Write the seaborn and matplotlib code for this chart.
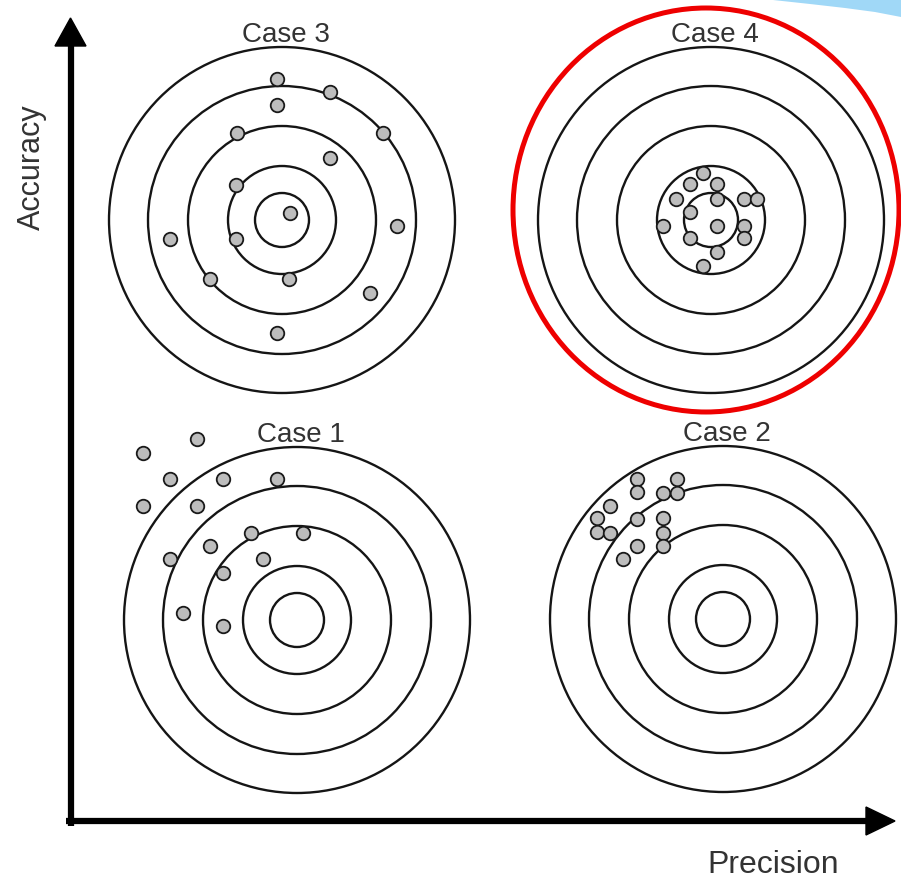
import matplotlib
matplotlib.use("Agg")
import matplotlib.pyplot as plt
from matplotlib.patches import Circle, Ellipse, Polygon
import seaborn as sns
import pandas as pd

# ---------------- data ----------------
W, H = 901, 882
case_names = ["Case 3", "Case 4", "Case 1", "Case 2"]
# target centres (pixel frame, y downward)
center_x = [282, 711, 297, 723]
center_y = [220, 220, 620, 619]
ring_radii = [27, 54, 94, 134, 173]

# shot offsets from bullseye (dx right, dy up)
case3_dx = [-5, 48, -5, -45, 101, 48, -46, 8, 115, -112, -46, -72, 7, 88, -5]
case3_dy = [141, 128, 115, 87, 87, 62, 35, 7, -6, -19, -19, -59, -59, -73, -113]
case4_dx = [-8, -21, 6, -35, 6, 33, 46, -21, -48, 6, 33, -21, 33, 6, -8]
case4_dy = [47, 36, 36, 21, 21, 21, 21, 8, -6, -6, -6, -18, -18, -32, -46]
case1_dx = [-100, -154, -127, -74, -20, -154, -100, -46, 6, -87, -127, -34, -74, -114, -74]
case1_dy = [181, 167, 141, 141, 141, 114, 114, 87, 87, 74, 61, 61, 47, 7, -6]
case2_dx = [-86, -46, -86, -60, -46, -113, -126, -86, -60, -126, -113, -60, -86, -60, -100]
case2_dy = [140, 140, 127, 126, 126, 113, 101, 100, 101, 87, 86, 86, 73, 73, 60]
shots_dx = [case3_dx, case4_dx, case1_dx, case2_dx]
shots_dy = [case3_dy, case4_dy, case1_dy, case2_dy]

x_label = "Precision"
y_label = "Accuracy"

# ---------------- figure ----------------
sns.set_theme(style="white")
plt.rcParams["font.family"] = ["Liberation Sans", "DejaVu Sans"]

fig = plt.figure(figsize=(W / 100, H / 100), dpi=100)
ax = fig.add_axes([0, 0, 1, 1])

def py(y):
    return H - y

rows = []
for i, name in enumerate(case_names):
    cx, cy = center_x[i], py(center_y[i])
    for r in ring_radii:
        ax.add_patch(Circle((cx, cy), r, fill=False, ec="#151515", lw=1.7, zorder=1))
    ax.text(cx + 4, cy + 178, name, ha="center", va="baseline",
            fontsize=20, color="#333333", zorder=3)
    for dx, dy in zip(shots_dx[i], shots_dy[i]):
        rows.append({"case": name, "x": cx + dx, "y": cy + dy})

df = pd.DataFrame(rows)
sns.scatterplot(data=df, x="x", y="y", ax=ax, s=95, color="#bdbdbd",
                edgecolor="#1a1a1a", linewidth=1.3, zorder=4, legend=False)
ax.set_xlim(0, W)
ax.set_ylim(0, H)
ax.axis("off")

# highlight ellipse around Case 4
ax.add_patch(Ellipse((706, py(210)), 386, 404, fill=False, ec="#ee0000", lw=3.6, zorder=5))

# light blue decoration top right
ax.add_patch(Polygon([(773, py(0)), (810, py(4)), (845, py(8)), (875, py(12)),
                      (901, py(17)), (901, py(0))], closed=True,
                     fc="#a0d8f7", ec="none", zorder=0))

# axes arrows
ax.plot([70.5, 70.5], [py(826), py(42)], color="black", lw=4.5, solid_capstyle="butt", zorder=2)
ax.add_patch(Polygon([(70.5, py(18)), (55, py(46)), (86, py(46))], closed=True,
                     fc="black", ec="black", zorder=2))
ax.plot([66, 870], [py(821), py(821)], color="black", lw=4.5, solid_capstyle="butt", zorder=2)
ax.add_patch(Polygon([(895, py(821)), (866, py(807)), (866, py(835))], closed=True,
                     fc="black", ec="black", zorder=2))

ax.text(773, py(865), x_label, ha="center", va="center", fontsize=23, color="#333333")
ax.text(32, py(167), y_label, ha="center", va="center", rotation=90, fontsize=22, color="#333333")

fig.savefig("out.png", dpi=100)
